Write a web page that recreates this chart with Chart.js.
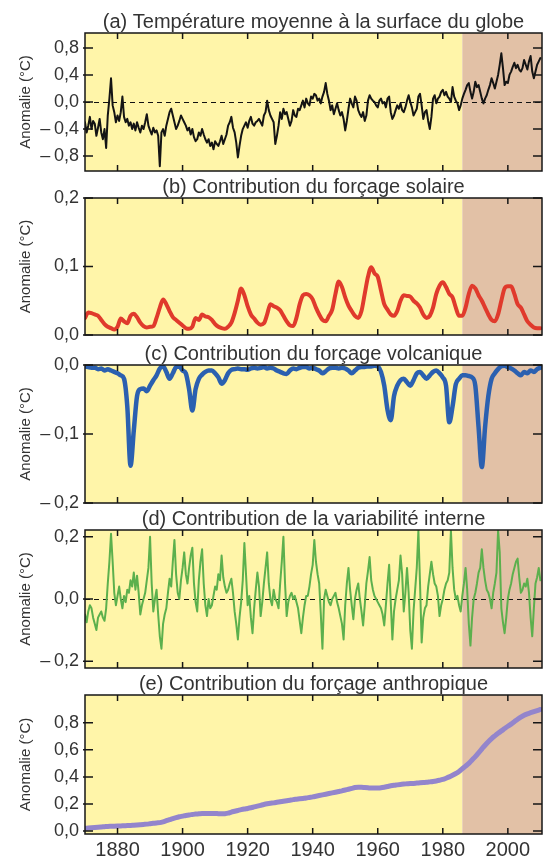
<!DOCTYPE html>
<html>
<head>
<meta charset="utf-8">
<script src="https://cdn.jsdelivr.net/npm/chart.js@4.4.0/dist/chart.umd.min.js"></script>
<style>
  html, body { margin: 0; padding: 0; background: #fff; }
  #wrap { position: relative; width: 550px; height: 857px; overflow: hidden; }
  #wrap canvas { position: absolute; left: 0; }
</style>
</head>
<body>
<div id="wrap"></div>
<script>
// ── Data ───────────────────────────────────────────────────────────────────
const FIRST_YEAR = 1870;
const SHADE_FROM = 1986;          // start of the brown period
const xTicks = [1880, 1900, 1920, 1940, 1960, 1980, 2000];

const titles = [
  "(a) Température moyenne à la surface du globe",
  "(b) Contribution du forçage solaire",
  "(c) Contribution du forçage volcanique",
  "(d) Contribution de la variabilité interne",
  "(e) Contribution du forçage anthropique"
];
const yTitle = "Anomalie (°C)";

const ticksA = [-0.8, -0.4, 0, 0.4, 0.8];
const ticksB = [0, 0.1, 0.2];
const ticksC = [-0.2, -0.1, 0];
const ticksD = [-0.2, 0, 0.2];
const ticksE = [0, 0.2, 0.4, 0.6, 0.8];

// (a) global mean temperature anomaly, two values per year from 1870
const tempAnomaly = [
  -0.30,-0.45,-0.35,-0.22,-0.40,-0.28,-0.32,-0.50,-0.38,-0.25,-0.45,-0.55,-0.40,-0.68,-0.20,0.05,0.35,-0.05,-0.15,-0.30,
  -0.20,-0.28,-0.15,0.08,-0.22,-0.30,-0.25,-0.35,-0.30,-0.40,-0.32,-0.42,-0.30,-0.38,-0.45,-0.35,-0.40,-0.30,-0.18,-0.35,
  -0.42,-0.48,-0.38,-0.45,-0.42,-0.50,-0.95,-0.45,-0.40,-0.50,-0.35,-0.25,-0.15,-0.10,-0.20,-0.30,-0.40,-0.35,-0.28,-0.20,
  -0.25,-0.30,-0.35,-0.42,-0.38,-0.48,-0.40,-0.52,-0.58,-0.55,-0.45,-0.50,-0.40,-0.48,-0.55,-0.60,-0.55,-0.65,-0.60,-0.70,
  -0.58,-0.62,-0.65,-0.58,-0.50,-0.62,-0.55,-0.48,-0.35,-0.30,-0.22,-0.38,-0.45,-0.60,-0.82,-0.65,-0.50,-0.40,-0.35,-0.30,
  -0.38,-0.28,-0.22,-0.32,-0.35,-0.30,-0.28,-0.25,-0.30,-0.35,-0.20,-0.15,0.02,-0.12,-0.20,-0.25,-0.30,-0.62,-0.50,-0.35,
  -0.15,-0.25,-0.10,-0.18,-0.15,-0.25,-0.35,-0.28,-0.12,-0.20,-0.22,-0.10,-0.12,-0.05,0.02,-0.08,0.05,-0.02,-0.05,0.08,
  0.05,0.12,0.10,0.02,0.05,-0.02,0.08,0.15,0.28,0.12,0.02,-0.12,-0.05,-0.18,-0.10,-0.02,-0.12,-0.20,-0.15,-0.25,
  -0.42,-0.28,-0.10,0.05,-0.02,-0.08,0.08,0.02,-0.12,-0.18,-0.22,-0.15,-0.28,-0.20,0.02,0.10,0.05,0.02,0.00,-0.05,
  -0.08,0.02,0.05,-0.02,0.00,-0.08,0.05,0.08,-0.15,-0.25,-0.20,-0.12,-0.05,-0.10,-0.02,-0.12,-0.15,-0.08,0.02,0.10,
  0.00,-0.08,-0.20,-0.15,-0.10,0.08,0.12,-0.05,-0.25,-0.15,-0.12,-0.28,-0.40,-0.22,0.05,0.10,-0.02,0.05,0.08,0.15,
  0.18,0.10,0.15,0.08,0.05,0.00,0.22,0.08,0.02,-0.02,-0.12,-0.05,0.05,0.12,0.18,0.25,0.28,0.15,0.05,0.15,
  0.30,0.22,0.25,0.15,0.05,-0.02,0.05,0.10,0.18,0.25,0.35,0.28,0.20,0.30,0.40,0.55,0.72,0.50,0.25,0.30,
  0.28,0.40,0.45,0.52,0.58,0.50,0.55,0.48,0.45,0.50,0.62,0.55,0.48,0.60,0.68,0.45,0.35,0.45,0.55,0.60,
  0.65
];

// (b) solar contribution, one value per year from 1870
const solar = [
  0.025,0.033,0.032,0.030,0.028,0.022,0.016,0.012,0.010,0.008,
  0.012,0.024,0.020,0.017,0.028,0.031,0.026,0.018,0.013,0.011,
  0.012,0.013,0.025,0.040,0.052,0.045,0.035,0.026,0.022,0.018,
  0.014,0.010,0.009,0.012,0.025,0.022,0.030,0.027,0.026,0.022,
  0.016,0.012,0.010,0.009,0.012,0.018,0.032,0.050,0.068,0.058,
  0.042,0.030,0.024,0.018,0.015,0.017,0.030,0.045,0.042,0.040,
  0.036,0.028,0.020,0.014,0.013,0.025,0.045,0.058,0.060,0.058,
  0.052,0.040,0.030,0.022,0.020,0.028,0.037,0.060,0.078,0.070,
  0.055,0.043,0.035,0.028,0.025,0.035,0.060,0.085,0.099,0.090,
  0.085,0.065,0.045,0.037,0.030,0.028,0.035,0.050,0.058,0.057,
  0.056,0.050,0.046,0.040,0.030,0.025,0.028,0.040,0.060,0.072,
  0.077,0.070,0.060,0.055,0.040,0.028,0.028,0.040,0.060,0.072,
  0.068,0.058,0.050,0.040,0.030,0.022,0.020,0.030,0.050,0.068,
  0.071,0.071,0.060,0.045,0.040,0.030,0.020,0.015,0.011,0.010,
  0.010
];

// (c) volcanic contribution, one value per year from 1870
const volcanic = [
  -0.002,-0.003,-0.004,-0.004,-0.006,-0.005,-0.008,-0.006,-0.008,-0.010,
  -0.012,-0.015,-0.020,-0.060,-0.146,-0.095,-0.045,-0.035,-0.034,-0.038,
  -0.030,-0.022,-0.015,-0.005,-0.002,-0.010,-0.020,-0.012,-0.003,-0.002,
  -0.008,-0.012,-0.035,-0.066,-0.035,-0.020,-0.014,-0.010,-0.008,-0.008,
  -0.012,-0.018,-0.027,-0.022,-0.012,-0.007,-0.006,-0.005,-0.006,-0.006,
  -0.007,-0.005,-0.004,-0.005,-0.004,-0.003,-0.005,-0.004,-0.005,-0.008,
  -0.010,-0.012,-0.013,-0.008,-0.005,-0.006,-0.004,-0.003,-0.003,-0.005,
  -0.004,-0.006,-0.008,-0.012,-0.009,-0.005,-0.004,-0.004,-0.005,-0.004,
  -0.005,-0.008,-0.012,-0.008,-0.004,-0.003,-0.003,-0.002,-0.002,-0.001,
  -0.002,-0.010,-0.030,-0.065,-0.080,-0.045,-0.030,-0.022,-0.020,-0.025,
  -0.030,-0.022,-0.012,-0.010,-0.015,-0.020,-0.015,-0.010,-0.008,-0.012,
  -0.018,-0.030,-0.083,-0.060,-0.028,-0.020,-0.015,-0.015,-0.016,-0.018,
  -0.030,-0.090,-0.148,-0.090,-0.045,-0.020,-0.012,-0.006,-0.002,-0.001,
  -0.003,-0.005,-0.008,-0.012,-0.015,-0.010,-0.012,-0.008,-0.010,-0.006,
  -0.004
];

// (d) internal variability, two values per year from 1870
const internalVar = [
  -0.05,-0.075,-0.04,-0.02,-0.03,-0.06,-0.08,-0.10,-0.06,-0.05,-0.04,-0.06,-0.07,-0.03,0.05,0.12,0.21,0.12,0.02,-0.02,
  0.01,0.04,0.00,-0.03,0.01,-0.01,0.03,0.02,0.06,0.04,0.085,0.03,0.075,0.02,-0.05,-0.02,0.00,0.02,0.06,0.10,
  0.20,0.05,-0.04,0.00,0.03,-0.05,-0.12,-0.16,-0.08,-0.05,-0.03,0.02,0.065,0.04,0.12,0.19,0.08,0.02,0.00,0.06,
  0.10,0.15,0.08,0.05,0.10,0.14,0.165,0.05,-0.01,-0.04,0.06,0.12,0.16,0.05,-0.02,-0.055,0.00,-0.03,-0.02,0.01,
  0.04,0.03,0.08,0.06,0.14,0.07,0.04,0.02,0.03,0.05,0.065,0.02,-0.04,-0.08,-0.13,-0.06,-0.01,0.06,0.18,0.08,
  -0.02,0.01,-0.06,-0.11,-0.03,0.03,0.085,0.04,-0.055,-0.01,0.05,0.10,0.15,0.05,0.00,-0.02,0.03,0.00,-0.01,-0.03,
  0.05,0.12,0.20,0.05,-0.055,-0.01,0.01,0.02,0.00,0.01,-0.01,-0.03,-0.07,-0.11,-0.06,-0.02,0.01,0.01,0.04,0.08,
  0.11,0.19,0.12,0.08,0.05,-0.05,-0.16,0.00,0.03,0.01,-0.01,-0.02,0.00,0.01,0.02,-0.01,-0.03,-0.055,-0.08,-0.13,
  -0.02,0.05,0.10,0.03,-0.02,-0.065,0.00,0.03,0.05,0.00,-0.04,-0.085,-0.02,0.05,0.09,0.135,0.06,0.03,0.01,0.00,
  -0.01,-0.02,-0.03,-0.05,-0.085,-0.02,0.05,0.11,-0.01,-0.13,-0.04,0.00,0.03,0.06,0.14,0.08,-0.04,0.02,0.10,0.02,
  -0.10,-0.16,-0.04,0.03,0.10,0.22,0.05,-0.14,-0.06,-0.03,-0.02,0.04,0.08,0.12,0.08,0.05,0.04,0.01,-0.055,-0.02,
  0.00,0.03,0.05,0.06,0.085,0.22,0.10,0.03,0.00,0.01,-0.02,-0.04,0.01,0.05,0.10,0.03,-0.08,-0.15,-0.06,0.00,
  0.02,0.05,0.085,0.10,0.16,0.10,0.06,0.03,0.02,0.00,-0.03,0.02,0.05,0.085,0.22,0.15,-0.03,-0.075,-0.11,-0.06,
  0.00,0.03,0.05,0.08,0.10,0.12,0.13,0.07,0.02,0.03,0.05,0.04,0.065,0.02,-0.06,-0.12,-0.03,0.05,0.07,0.10,
  0.06
];

// (e) anthropogenic contribution, one value per year from 1870
const anthropic = [
  0.020,0.022,0.024,0.026,0.028,0.030,0.032,0.034,0.035,0.036,
  0.037,0.038,0.039,0.040,0.041,0.043,0.045,0.047,0.049,0.051,
  0.054,0.057,0.060,0.062,0.068,0.076,0.084,0.092,0.099,0.105,
  0.110,0.115,0.119,0.122,0.125,0.127,0.129,0.130,0.130,0.130,
  0.130,0.128,0.127,0.128,0.132,0.140,0.146,0.152,0.158,0.163,
  0.167,0.172,0.178,0.184,0.190,0.196,0.201,0.205,0.208,0.212,
  0.216,0.220,0.224,0.228,0.232,0.235,0.238,0.241,0.244,0.248,
  0.252,0.257,0.262,0.267,0.272,0.277,0.282,0.287,0.292,0.297,
  0.303,0.309,0.315,0.321,0.324,0.323,0.321,0.319,0.317,0.317,
  0.318,0.320,0.324,0.329,0.334,0.338,0.341,0.344,0.347,0.349,
  0.351,0.352,0.354,0.356,0.358,0.360,0.363,0.366,0.370,0.375,
  0.381,0.390,0.400,0.412,0.425,0.440,0.460,0.480,0.500,0.525,
  0.550,0.578,0.606,0.634,0.660,0.683,0.703,0.722,0.740,0.757,
  0.774,0.790,0.808,0.826,0.842,0.856,0.866,0.874,0.882,0.890,
  0.898
];

// ── Look ───────────────────────────────────────────────────────────────────
const FONT = '"Liberation Sans", Arial, Helvetica, sans-serif';
const TEXT = "#333333";
const YELLOW = "#fff5a9";
const BROWN  = "#e2c1a6";
Chart.defaults.font.family = FONT;
Chart.defaults.color = TEXT;

const panels = [
  { title: titles[0], values: tempAnomaly, step: 0.5, yMin: -1.02, yMax: 1.02, yTicks: ticksA,
    color: "#141414", width: 2, smooth: false, zero: true,
    top: 0, height: 190, plotTop: 33, plotBottom: 171 },
  { title: titles[1], values: solar, step: 1, yMin: 0, yMax: 0.2, yTicks: ticksB,
    color: "#e03a2c", width: 4, smooth: true, zero: false,
    top: 176, height: 176, plotTop: 198, plotBottom: 335 },
  { title: titles[2], values: volcanic, step: 1, yMin: -0.2, yMax: 0, yTicks: ticksC,
    color: "#2b60b0", width: 4.5, smooth: true, zero: false,
    top: 342, height: 176, plotTop: 365, plotBottom: 503 },
  { title: titles[3], values: internalVar, step: 0.5, yMin: -0.222, yMax: 0.222, yTicks: ticksD,
    color: "#5cb04d", width: 2, smooth: false, zero: true,
    top: 508, height: 176, plotTop: 530, plotBottom: 668 },
  { title: titles[4], values: anthropic, step: 1, yMin: -0.022, yMax: 1.005, yTicks: ticksE,
    color: "#9385cc", width: 5, smooth: true, zero: false, showX: true,
    top: 674, height: 183, plotTop: 695, plotBottom: 834 }
];

function fmt(v) {
  const s = Math.abs(v).toFixed(1).replace(".", ",");
  return v < -1e-9 ? "\u2013\u2009" + s : s;
}

function toPoints(values, step) {
  return values.map((v, i) => ({ x: FIRST_YEAR + i * step, y: v }));
}

// backgrounds, dashed zero line, frame, inward ticks and panel title
const panelDeco = {
  id: "panelDeco",
  beforeDatasetsDraw(chart, args, o) {
    const { ctx, chartArea: a, scales: { x, y } } = chart;
    const xs = x.getPixelForValue(SHADE_FROM);
    ctx.save();
    ctx.fillStyle = YELLOW; ctx.fillRect(a.left, a.top, xs - a.left, a.height);
    ctx.fillStyle = BROWN;  ctx.fillRect(xs, a.top, a.right - xs, a.height);
    if (o.zero) {
      const y0 = Math.round(y.getPixelForValue(0)) + 0.5;
      ctx.strokeStyle = "#111"; ctx.lineWidth = 1.2; ctx.setLineDash([5, 4]);
      ctx.beginPath(); ctx.moveTo(a.left, y0); ctx.lineTo(a.right, y0); ctx.stroke();
    }
    ctx.restore();
  },
  afterDatasetsDraw(chart, args, o) {
    const { ctx, chartArea: a, scales: { x, y } } = chart;
    ctx.save();
    ctx.strokeStyle = "#161616"; ctx.lineWidth = 1.5;
    ctx.strokeRect(a.left, a.top, a.right - a.left, a.bottom - a.top);
    ctx.beginPath();
    xTicks.forEach(t => {
      const px = x.getPixelForValue(t);
      ctx.moveTo(px, a.top); ctx.lineTo(px, a.top + 6);
      ctx.moveTo(px, a.bottom); ctx.lineTo(px, a.bottom - 6);
    });
    y.ticks.forEach(t => {
      const py = y.getPixelForValue(t.value);
      ctx.moveTo(a.left - 2, py); ctx.lineTo(a.left + 8, py);
      ctx.moveTo(a.right - 9, py); ctx.lineTo(a.right, py);
    });
    ctx.stroke();
    ctx.fillStyle = TEXT;
    ctx.font = "20px " + FONT;
    ctx.textAlign = "center"; ctx.textBaseline = "middle";
    ctx.fillText(o.title, (a.left + a.right) / 2, a.top - 11);
    ctx.restore();
  }
};

// ── Charts ─────────────────────────────────────────────────────────────────
const wrap = document.getElementById("wrap");
panels.forEach(p => {
  const cv = document.createElement("canvas");
  cv.width = 550; cv.height = p.height;
  cv.style.top = p.top + "px";
  wrap.appendChild(cv);

  new Chart(cv, {
    type: "line",
    data: { datasets: [{
      data: toPoints(p.values, p.step),
      borderColor: p.color, borderWidth: p.width,
      pointRadius: 0, tension: p.smooth ? 0.4 : 0,
      cubicInterpolationMode: p.smooth ? "monotone" : "default",
      borderJoinStyle: "round", borderCapStyle: "round"
    }]},
    options: {
      responsive: false, animation: false, devicePixelRatio: 1, events: [],
      layout: { padding: {
        top: p.plotTop - p.top, left: 0, right: 8,
        bottom: p.showX ? 0 : p.top + p.height - p.plotBottom
      }},
      plugins: {
        legend: { display: false },
        tooltip: { enabled: false },
        panelDeco: { title: p.title, zero: p.zero }
      },
      scales: {
        x: {
          type: "linear", min: FIRST_YEAR, max: 2010.5, display: !!p.showX,
          grid: { display: false, drawTicks: false }, border: { display: false },
          afterBuildTicks: s => { s.ticks = xTicks.map(v => ({ value: v })); },
          afterFit: s => {
            if (!p.showX) return;
            s.height = p.top + p.height - p.plotBottom; s.paddingLeft = 0; s.paddingRight = 0;
          },
          ticks: { padding: 4, color: TEXT, font: { size: 20 }, autoSkip: false, maxRotation: 0,
                   callback: v => String(v) }
        },
        y: {
          min: p.yMin, max: p.yMax,
          grid: { display: false, drawTicks: false }, border: { display: false },
          afterBuildTicks: s => { s.ticks = p.yTicks.map(v => ({ value: v })); },
          afterFit: s => { s.width = 85; s.paddingTop = 0; s.paddingBottom = 0; },
          ticks: { padding: 6, color: TEXT, font: { size: 18 }, callback: v => fmt(v) },
          title: { display: true, text: yTitle, color: TEXT, font: { size: 15 },
                   padding: { top: 17, bottom: 0 } }
        }
      }
    },
    plugins: [panelDeco]
  });
});
</script>
</body>
</html>
